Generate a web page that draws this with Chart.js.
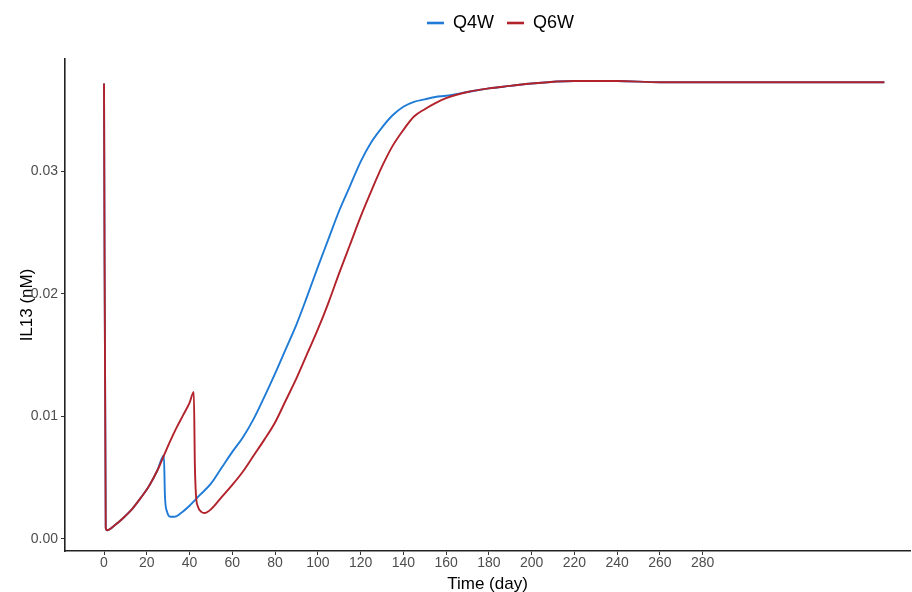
<!DOCTYPE html>
<html>
<head>
<meta charset="utf-8">
<script src="https://cdn.jsdelivr.net/npm/chart.js"></script>
<style>
  html, body { margin: 0; padding: 0; background: #fff; }
  #wrap { width: 912px; height: 592px; position: relative; }
</style>
</head>
<body>
<div id="wrap"><canvas id="chartPk"></canvas></div>
<script>
const seriesNames = ['Q4W', 'Q6W'];

const q4wDays = [0, 0.8, 1.5, 5, 9, 13, 17, 21, 25, 28, 28.5, 29.5, 31, 33, 36, 40, 45, 50, 55, 60,
  65, 70, 75, 80, 85, 90, 95, 100, 105, 110, 115, 120, 125, 130, 135, 140, 145, 150, 155, 160,
  170, 180, 190, 200, 220, 240, 260, 280, 300, 330, 365];
const q4wConc = [0.0372, 0.0009, 0.0007, 0.0011, 0.0017, 0.0024, 0.0033, 0.0043, 0.0056, 0.0068,
  0.0035, 0.0022, 0.0018, 0.0018, 0.0021, 0.0027, 0.0036, 0.0045, 0.0058, 0.0071,
  0.0083, 0.0098, 0.0116, 0.0135, 0.0155, 0.0175, 0.0198, 0.0222, 0.0245, 0.0268,
  0.0288, 0.0308, 0.0324, 0.0336, 0.0346, 0.0353, 0.0357, 0.0359, 0.0361, 0.0362,
  0.0365, 0.0368, 0.0370, 0.0372, 0.0374, 0.0374, 0.0373, 0.0373, 0.0373, 0.0373, 0.0373];

const q6wDays = [0, 0.8, 1.5, 5, 9, 13, 17, 21, 25, 28, 31, 34, 37, 40, 42, 42.5, 43, 44, 45.5, 47,
  50, 55, 60, 65, 70, 75, 80, 85, 90, 95, 100, 105, 110, 115, 120, 125, 130, 135, 140, 145,
  150, 155, 160, 170, 180, 190, 200, 220, 240, 260, 280, 300, 330, 365];
const q6wConc = [0.0372, 0.0009, 0.0007, 0.0011, 0.0017, 0.0024, 0.0033, 0.0043, 0.0056, 0.0068,
  0.0080, 0.0091, 0.0101, 0.0111, 0.0120, 0.0060, 0.0036, 0.0026, 0.0022, 0.0021,
  0.0024, 0.0034, 0.0044, 0.0055, 0.0068, 0.0081, 0.0095, 0.0113, 0.0131, 0.0151,
  0.0171, 0.0193, 0.0217, 0.0240, 0.0263, 0.0284, 0.0304, 0.0321, 0.0334, 0.0345,
  0.0351, 0.0356, 0.0360, 0.0365, 0.0368, 0.0370, 0.0372, 0.0374, 0.0374, 0.0373,
  0.0373, 0.0373, 0.0373, 0.0373];

const xTicks = [0, 20, 40, 60, 80, 100, 120, 140, 160, 180, 200, 220, 240, 260, 280];
const yTicks = [0, 0.01, 0.02, 0.03];

const toPoints = (xs, ys) => xs.map((x, i) => ({ x: x, y: ys[i] }));

const fam = 'Liberation Sans, Arial, sans-serif';
const tickFont = { family: fam, size: 14 };
const titleFont = { family: fam, size: 17 };

const data = {
  datasets: [
    {
      label: seriesNames[0],
      data: toPoints(q4wDays, q4wConc),
      borderColor: '#1f7bd6',
      backgroundColor: '#1f7bd6',
      order: 1
    },
    {
      label: seriesNames[1],
      data: toPoints(q6wDays, q6wConc),
      borderColor: '#b2222a',
      backgroundColor: '#b2222a',
      order: 0
    }
  ]
};

// nudge the legend a bit right, like the original
const legendShift = {
  id: 'legendShift',
  afterLayout(chart) {
    chart.legend.left += 13;
    chart.legend.right += 13;
  }
};

const options = {
  responsive: true,
  maintainAspectRatio: false,
  animation: false,
  parsing: false,
  layout: { padding: { left: 17, right: 2, top: 1, bottom: 0 } },
  elements: {
    point: { radius: 0 },
    line: { borderWidth: 1.9, cubicInterpolationMode: 'monotone', fill: false }
  },
  plugins: {
    tooltip: { enabled: false },
    legend: {
      position: 'top',
      fullSize: false,
      labels: {
        usePointStyle: true,
        pointStyle: 'line',
        pointStyleWidth: 17,
        boxHeight: 8,
        padding: 13,
        color: '#000',
        font: { family: fam, size: 18 },
        sort: (a, b) => a.datasetIndex - b.datasetIndex,
        generateLabels: (chart) => {
          const items = Chart.defaults.plugins.legend.labels.generateLabels(chart);
          items.forEach(it => { it.lineWidth = 2.6; });
          return items;
        }
      }
    },
    subtitle: {
      display: true,
      text: ' ',
      weight: 500,
      position: 'top',
      font: { size: 10 },
      padding: { top: 0, bottom: 5 }
    }
  },
  scales: {
    x: {
      type: 'linear',
      min: -18.25,
      max: 377,
      afterBuildTicks: (s) => { s.ticks = xTicks.map(v => ({ value: v })); },
      afterFit: (s) => { s.height = 41; },
      border: { display: true, color: '#222', width: 1.6 },
      grid: { display: true, drawOnChartArea: false, tickLength: 4, color: '#333', lineWidth: 1 },
      ticks: { color: '#4d4d4d', font: tickFont, padding: 0, maxRotation: 0, autoSkip: false },
      title: { display: true, text: 'Time (day)', color: '#000', font: titleFont, padding: { top: 0, bottom: -3 } }
    },
    y: {
      type: 'linear',
      min: -0.0010,
      max: 0.0392,
      afterBuildTicks: (s) => { s.ticks = yTicks.map(v => ({ value: v })); },
      afterFit: (s) => { s.width = 48; },
      border: { display: true, color: '#222', width: 1.6 },
      grid: { display: true, drawOnChartArea: false, tickLength: 4, color: '#333', lineWidth: 1 },
      ticks: { color: '#4d4d4d', font: tickFont, padding: 3, callback: (v) => v.toFixed(2) },
      title: { display: true, text: 'IL13 (nM)', color: '#000', font: titleFont, padding: 0 }
    }
  }
};

new Chart(document.getElementById('chartPk'), {
  type: 'line',
  data: data,
  options: options,
  plugins: [legendShift]
});
</script>
</body>
</html>
